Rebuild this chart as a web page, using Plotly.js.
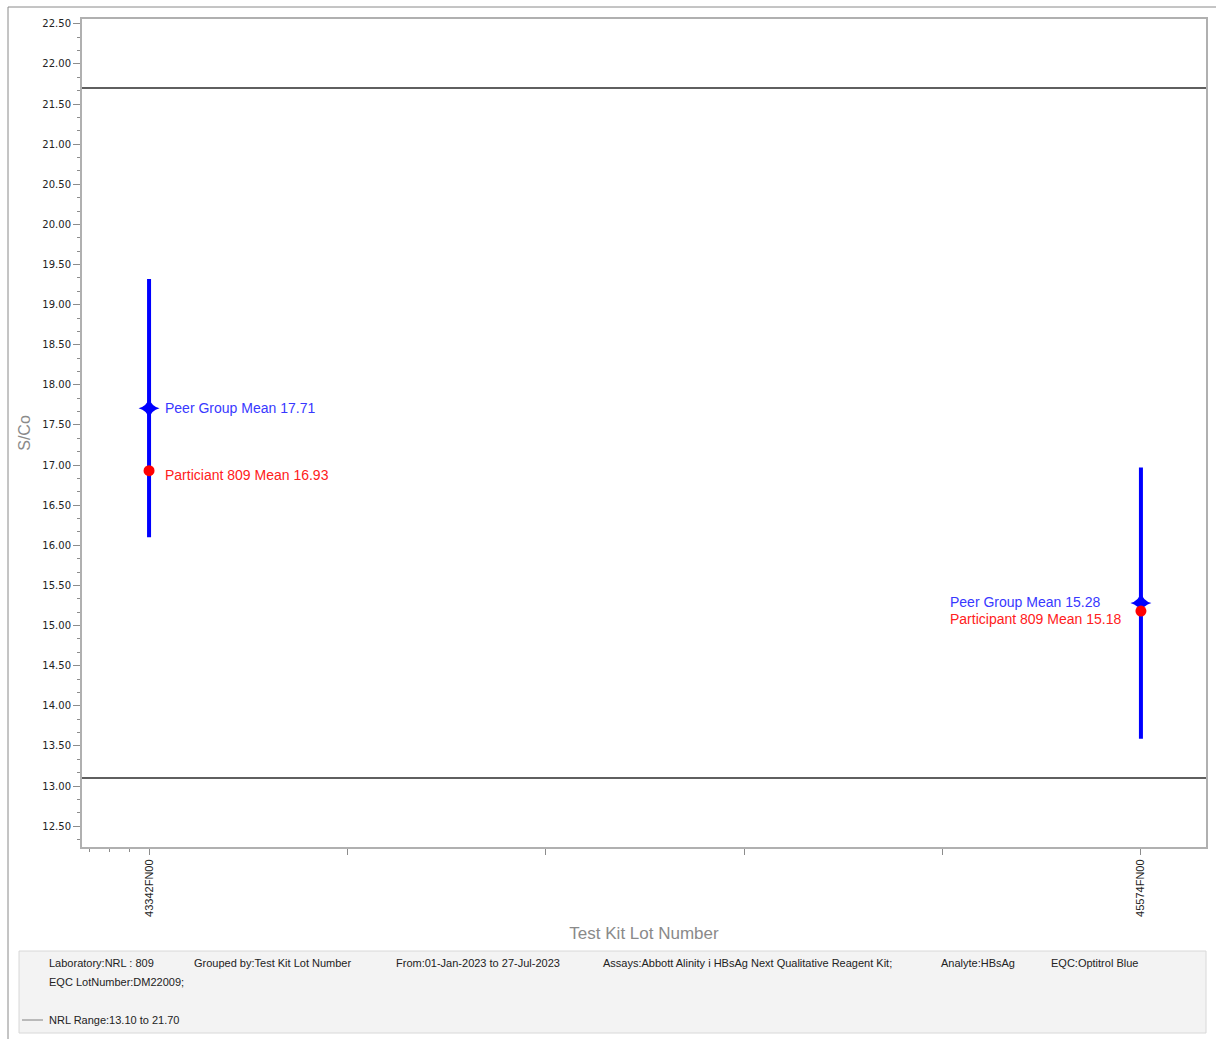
<!DOCTYPE html>
<html>
<head>
<meta charset="utf-8">
<script src="https://cdn.plot.ly/plotly-3.0.1.min.js"></script>
<style>
  html, body { margin: 0; padding: 0; background: #fff; }
  #chart { width: 1216px; height: 1039px; }
</style>
</head>
<body>
<div id="chart"></div>
<script>
// ---- Data ----
const lotNumbers = ['43342FN00', '45574FN00'];
const lotIndex = [0, 5];
const peerMean = [17.71, 15.28];
const peerSD = [1.61, 1.69];
const participantMean = [16.93, 15.18];
const peerLabels = ['Peer Group Mean 17.71', 'Peer Group Mean 15.28'];
const participantLabels = ['Particiant 809 Mean 16.93', 'Participant 809 Mean 15.18'];
const nrlRange = [13.10, 21.70];
const yTickVals = [12.5, 13, 13.5, 14, 14.5, 15, 15.5, 16, 16.5, 17, 17.5, 18, 18.5, 19, 19.5, 20, 20.5, 21, 21.5, 22, 22.5];
const xSlots = [0, 1, 2, 3, 4, 5];
const xSlotLabels = ['43342FN00', '', '', '', '', '45574FN00'];
const footerRow1 = [
  'Laboratory:NRL : 809',
  'Grouped by:Test Kit Lot Number',
  'From:01-Jan-2023 to 27-Jul-2023',
  'Assays:Abbott Alinity i HBsAg Next Qualitative Reagent Kit;',
  'Analyte:HBsAg',
  'EQC:Optitrol Blue'
];
const footerRow2 = 'EQC LotNumber:DM22009;';
const footerRange = 'NRL Range:13.10 to 21.70';

// ---- Layout helpers (pixel -> paper) ----
const W = 1216, H = 1039;
const mL = 82, mR = 10, mT = 19, mB = 192;
const pw = W - mL - mR, ph = H - mT - mB;
const px = x => (x - mL) / pw;
const py = y => (H - mB - y) / ph;

const traces = [
  {
    type: 'scatter', mode: 'markers',
    x: lotIndex, y: peerMean,
    error_y: { type: 'data', symmetric: true, array: peerSD, color: '#0000ff', thickness: 4, width: 0 },
    marker: { symbol: 'star-diamond', size: 15, color: '#0000ff' },
    hoverinfo: 'skip', showlegend: false
  },
  {
    type: 'scatter', mode: 'markers',
    x: lotIndex, y: participantMean,
    marker: { symbol: 'circle', size: 11, color: '#ff0000' },
    hoverinfo: 'skip', showlegend: false
  }
];

const labelFont = { family: 'Liberation Sans, Arial, sans-serif', size: 14 };
const footFont = { family: 'Liberation Sans, Arial, sans-serif', size: 11, color: '#222' };

const annotations = [
  { x: lotIndex[0], y: peerMean[0], xref: 'x', yref: 'y', text: peerLabels[0], showarrow: false,
    xanchor: 'left', yanchor: 'middle', xshift: 14, font: Object.assign({ color: '#3838ff' }, labelFont) },
  { x: lotIndex[0], y: participantMean[0], xref: 'x', yref: 'y', text: participantLabels[0], showarrow: false,
    xanchor: 'left', yanchor: 'middle', xshift: 14, yshift: -4, font: Object.assign({ color: '#ff2020' }, labelFont) },
  { x: lotIndex[1], y: peerMean[1], xref: 'x', yref: 'y', text: peerLabels[1], showarrow: false,
    xanchor: 'left', yanchor: 'middle', xshift: -193, yshift: 1, font: Object.assign({ color: '#3838ff' }, labelFont) },
  { x: lotIndex[1], y: participantMean[1], xref: 'x', yref: 'y', text: participantLabels[1], showarrow: false,
    xanchor: 'left', yanchor: 'middle', xshift: -193, yshift: -8, font: Object.assign({ color: '#ff2020' }, labelFont) }
];

// footer texts
const footerX = [47, 192, 394, 601, 939, 1049];
footerRow1.forEach((t, i) => {
  annotations.push({ x: px(footerX[i]), y: py(963), xref: 'paper', yref: 'paper', text: t, showarrow: false,
    xanchor: 'left', yanchor: 'middle', font: footFont });
});
annotations.push({ x: px(47), y: py(982), xref: 'paper', yref: 'paper', text: footerRow2, showarrow: false,
  xanchor: 'left', yanchor: 'middle', font: footFont });
annotations.push({ x: px(47), y: py(1020), xref: 'paper', yref: 'paper', text: footerRange, showarrow: false,
  xanchor: 'left', yanchor: 'middle', font: footFont });

const shapes = [
  // NRL range lines
  { type: 'line', xref: 'paper', yref: 'y', x0: 0, x1: 1, y0: nrlRange[0], y1: nrlRange[0], line: { color: '#5f5f5f', width: 2 } },
  { type: 'line', xref: 'paper', yref: 'y', x0: 0, x1: 1, y0: nrlRange[1], y1: nrlRange[1], line: { color: '#5f5f5f', width: 2 } },
  // outer frame (left + top)
  { type: 'line', xref: 'paper', yref: 'paper', x0: px(8), x1: px(8), y0: py(7), y1: py(1039), line: { color: '#8a8a8a', width: 1 } },
  { type: 'line', xref: 'paper', yref: 'paper', x0: px(8), x1: px(1216), y0: py(7), y1: py(7), line: { color: '#8a8a8a', width: 1 } },
  // footer box
  { type: 'rect', xref: 'paper', yref: 'paper', x0: px(19), x1: px(1206), y0: py(951), y1: py(1033),
    fillcolor: '#f3f3f3', line: { color: '#d8d8d8', width: 1 }, layer: 'below' },
  // footer legend line
  { type: 'line', xref: 'paper', yref: 'paper', x0: px(22), x1: px(43), y0: py(1020), y1: py(1020), line: { color: '#808080', width: 1 } }
];

const layout = {
  width: W, height: H,
  margin: { l: mL, r: mR, t: mT, b: mB, pad: 0 },
  paper_bgcolor: '#ffffff', plot_bgcolor: '#ffffff',
  showlegend: false,
  xaxis: {
    range: [-0.338, 5.328],
    tickmode: 'array', tickvals: xSlots, ticktext: xSlotLabels,
    tickangle: -90, ticks: 'outside', ticklen: 6, tickcolor: '#8c8c8c', tickwidth: 1,
    minor: { tickmode: 'array', tickvals: [-0.3, -0.2, -0.1], ticks: 'outside', ticklen: 3, tickcolor: '#8c8c8c' },
    showgrid: false, zeroline: false,
    showline: true, linecolor: '#b0b0b0', linewidth: 2, mirror: true,
    tickfont: { family: 'Liberation Sans, Arial, sans-serif', size: 11, color: '#222' },
    title: { text: 'Test Kit Lot Number', font: { family: 'Liberation Sans, Arial, sans-serif', size: 17, color: '#8a8a8a' }, standoff: 11 }
  },
  yaxis: {
    range: [12.24, 22.56],
    tickmode: 'array', tickvals: yTickVals, tickformat: '.2f',
    ticks: 'outside', ticklen: 7, tickcolor: '#8c8c8c', tickwidth: 1,
    minor: { tick0: 12.5, dtick: 0.5 / 3, ticks: 'outside', ticklen: 3, tickcolor: '#8c8c8c' },
    showgrid: false, zeroline: false,
    showline: true, linecolor: '#b0b0b0', linewidth: 2, mirror: true,
    tickfont: { family: 'DejaVu Sans, Verdana, sans-serif', size: 10, color: '#222' },
    title: { text: 'S/Co', font: { family: 'Liberation Sans, Arial, sans-serif', size: 16, color: '#8a8a8a' }, standoff: 8 }
  },
  shapes: shapes,
  annotations: annotations
};

Plotly.newPlot('chart', traces, layout, { staticPlot: true, displayModeBar: false });
</script>
</body>
</html>
